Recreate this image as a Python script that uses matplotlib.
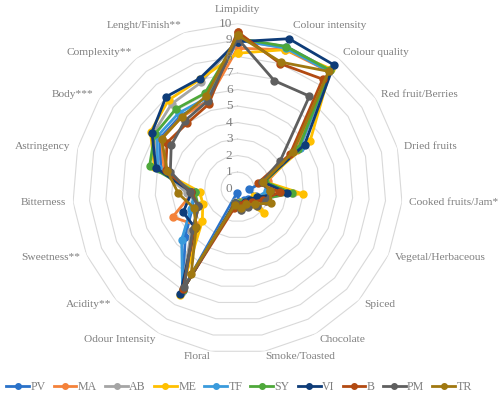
import numpy as np
import matplotlib
matplotlib.use('Agg')
import matplotlib.pyplot as plt
from matplotlib.transforms import offset_copy

attributes = ['Limpidity', 'Colour intensity', 'Colour quality', 'Red fruit/Berries',
              'Dried fruits', 'Cooked fruits/Jam*', 'Vegetal/Herbaceous', 'Spiced',
              'Chocolate', 'Smoke/Toasted', 'Floral', 'Odour Intensity', 'Acidity**',
              'Sweetness**', 'Bitterness', 'Astringency', 'Body***', 'Complexity**',
              'Lenght/Finish**']

names = ['PV', 'MA', 'AB', 'ME', 'TF', 'SY', 'VI', 'B', 'PM', 'TR']
colors = ['#2A72C9', '#F4823A', '#A5A5A5', '#FFC000', '#3A9BDC',
          '#4EA83A', '#0E3C78', '#B24A12', '#5F5F5F', '#A07810']

pv = [9.0, 9.1, 9.1, 4.5, 1.6, 0.7, 1.2, 0.9, 0.8, 0.8, 0.3, 7.0, 4.3, 3.0, 2.6, 4.8, 5.6, 5.6, 5.6]
ma = [8.5, 8.9, 9.0, 4.3, 1.9, 2.2, 1.9, 1.3, 1.0, 0.9, 0.9, 7.0, 3.3, 4.3, 2.7, 4.6, 5.5, 5.5, 5.6]
ab = [9.0, 9.0, 9.1, 4.5, 1.6, 3.4, 1.6, 1.2, 1.1, 1.3, 0.8, 7.1, 3.8, 2.5, 3.1, 4.9, 6.1, 6.5, 6.8]
me = [8.2, 8.9, 9.2, 5.25, 1.7, 4.0, 1.1, 2.2, 1.0, 0.8, 0.9, 7.35, 2.9, 2.3, 2.3, 5.2, 6.3, 6.8, 7.0]
tf = [9.0, 9.0, 9.0, 4.5, 1.6, 1.8, 1.3, 1.1, 0.9, 0.9, 0.9, 7.0, 4.6, 3.1, 2.6, 5.0, 5.8, 5.8, 5.8]
sy = [9.1, 9.1, 9.1, 4.4, 1.7, 3.3, 1.6, 1.2, 0.9, 0.9, 0.9, 7.0, 3.6, 2.6, 2.6, 5.5, 6.0, 6.1, 6.1]
vi = [8.9, 9.6, 9.5, 4.85, 1.6, 3.0, 1.3, 1.0, 0.9, 1.0, 0.9, 7.3, 3.5, 3.6, 2.8, 5.1, 6.2, 7.05, 7.05]
b = [9.5, 8.0, 8.4, 3.8, 1.25, 2.6, 1.7, 1.2, 1.0, 1.0, 1.2, 6.9, 3.6, 2.6, 2.8, 4.5, 5.1, 5.0, 5.4]
pm = [9.1, 6.9, 7.1, 3.1, 1.5, 2.0, 1.9, 1.6, 1.3, 1.3, 0.9, 6.8, 3.7, 2.6, 2.9, 4.2, 4.8, 5.2, 5.6]
tr = [9.3, 8.1, 9.0, 4.0, 1.6, 2.0, 2.2, 1.4, 1.1, 1.2, 1.0, 5.9, 3.4, 2.9, 3.6, 4.4, 5.5, 5.5, 5.9]
series = [pv, ma, ab, me, tf, sy, vi, b, pm, tr]

text_col = '#7F7F7F'
font = 'Liberation Serif'

fig = plt.figure(figsize=(4.98, 3.95), dpi=100)
ax = fig.add_axes([0.1456, 0.105, 0.6627, 0.8354], projection='polar')
ax.set_theta_offset(np.pi / 2)
ax.set_theta_direction(-1)

n = len(attributes)
angles = np.arange(n) * 2 * np.pi / n
closed = np.append(angles, angles[0])

# polygon grid
for level in range(1, 11):
    ax.plot(closed, [level] * (n + 1), color='#D9D9D9', lw=0.8, zorder=1)

for vals, name, col in zip(series, names, colors):
    v = np.append(vals, vals[0])
    ax.plot(closed, v, color=col, lw=2.0, marker='o', ms=5, label=name, zorder=3)

ax.set_ylim(0, 10)
ax.grid(False)
ax.spines['polar'].set_visible(False)
ax.set_xticks([])
ax.set_yticks([])

# radial values, left of the top spoke
tr_off = offset_copy(ax.transData, fig=fig, x=-5, y=0, units='dots')
for v in range(11):
    ax.text(0, v, str(v), transform=tr_off, ha='right', va='center',
            color=text_col, fontsize=9.5, family=font)

# category labels
for ang, lab in zip(angles, attributes):
    s, c = np.sin(ang), np.cos(ang)
    ha = 'left' if s > 0.05 else ('right' if s < -0.05 else 'center')
    va = 'center'
    r = 10.42
    if c > 0.99:
        va, r = 'bottom', 10.55
    elif c < -0.95:
        va, r = 'top', 10.05
    ax.text(ang, r, lab, ha=ha, va=va, color=text_col, fontsize=8.2, family=font)

leg = fig.legend(loc='lower center', bbox_to_anchor=(0.48, -0.022), ncol=10, frameon=False,
                 handlelength=1.9, handletextpad=0.12, columnspacing=0.68, markerscale=0.8,
                 prop={'family': font, 'size': 8.6}, labelcolor=text_col)

fig.savefig('out.png', dpi=100)
